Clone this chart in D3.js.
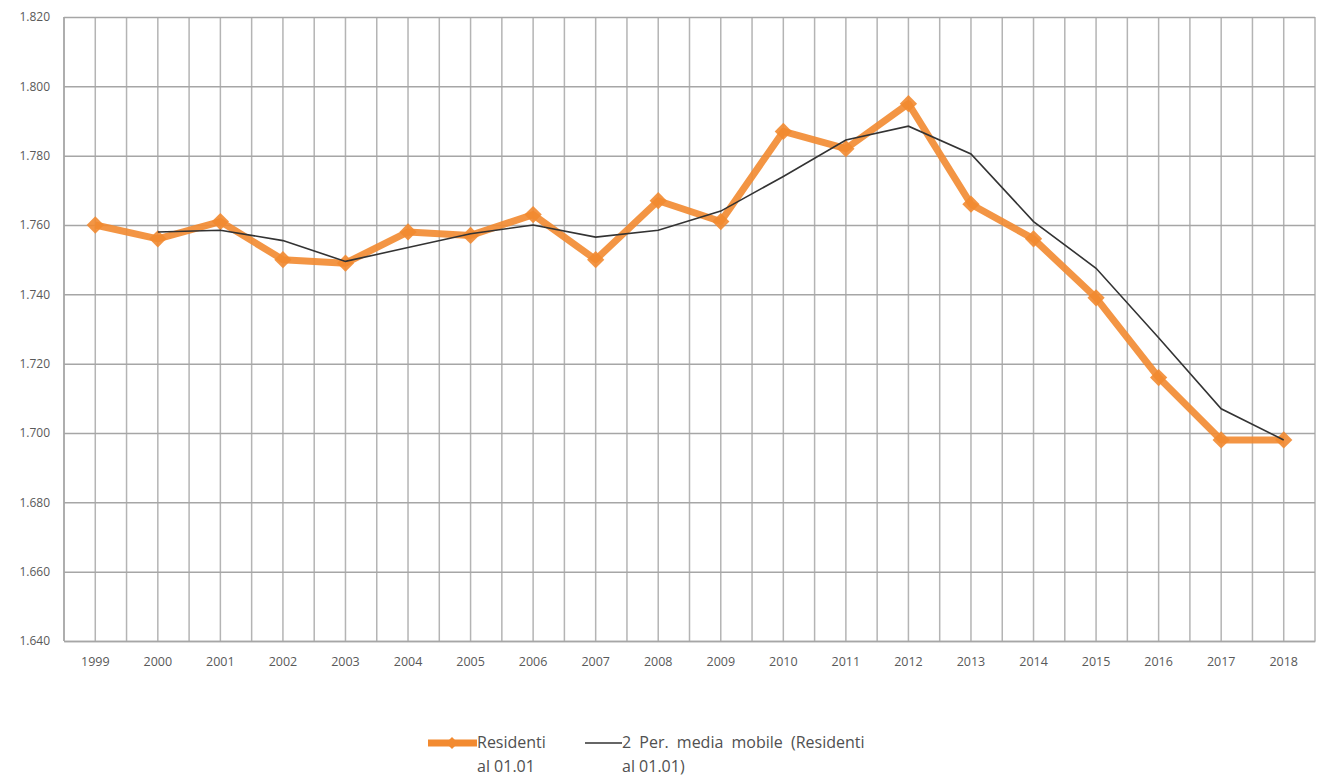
<!DOCTYPE html>
<html>
<head>
<meta charset="utf-8">
<script src="https://cdn.jsdelivr.net/npm/d3@7"></script>
<style>
  body { margin: 0; background: #fff; }
  text { font-family: "Open Sans", "Liberation Sans", sans-serif; }
</style>
</head>
<body>
<div class="line-chart"></div>
<script>
const years = ["1999","2000","2001","2002","2003","2004","2005","2006","2007","2008",
               "2009","2010","2011","2012","2013","2014","2015","2016","2017","2018"];
const residenti = [1760,1756,1761,1750,1749,1758,1757,1763,1750,1767,
                   1761,1787,1782,1795,1766,1756,1739,1716,1698,1698];
// 2 per. moving average (no value for 1999)
const mediaMobile = [null,1758,1758.5,1755.5,1749.5,1753.5,1757.5,1760,1756.5,1758.5,
                     1764,1774,1784.5,1788.5,1780.5,1761,1747.5,1727.5,1707,1698];
const yTicks = [1640,1660,1680,1700,1720,1740,1760,1780,1800,1820];

const margin = ({top: 17, right: 5, bottom: 140, left: 64});
const W = 1320, H = 781;
const width = 1315 - margin.left;
const height = 641 - margin.top;

const it = d3.formatLocale({decimal: ",", thousands: ".", grouping: [3], currency: ["€", ""]});
const fmt = it.format(",d");

const svg = d3.select(".line-chart")
    .append("svg")
    .attr("width", W)
    .attr("height", H)
    .append("g")
    .attr("transform", "translate(" + margin.left + "," + margin.top + ")");

const xScale = d3.scaleBand()
    .domain(years)
    .range([0, width]);

const xc = d => xScale(d) + xScale.bandwidth() / 2;

const yScale = d3.scaleLinear()
    .domain([1640, 1820])
    .range([height, 0]);

// vertical gridlines: category boundaries and centres
const vlines = [];
years.forEach(y => { vlines.push(xScale(y)); vlines.push(xc(y)); });
vlines.push(width);
svg.selectAll(".vgrid")
    .data(vlines)
    .enter()
    .append("line")
    .attr("x1", d => d).attr("x2", d => d)
    .attr("y1", 0).attr("y2", height)
    .attr("stroke", "#b4b4b4")
    .attr("stroke-width", 1.5);

// y axis with horizontal gridlines
const yAxis = d3.axisLeft(yScale)
    .tickValues(yTicks)
    .tickFormat(fmt)
    .tickSize(-width)
    .tickPadding(14);

svg.append("g")
    .attr("class", "axis y-axis")
    .call(yAxis)
    .call(g => g.select(".domain").remove())
    .call(g => g.selectAll(".tick line").attr("stroke", "#a6a6a6").attr("stroke-width", 1.5))
    .call(g => g.selectAll(".tick text").attr("fill", "#595959").attr("font-size", 12));

// left border
svg.append("line")
    .attr("x1", 0).attr("x2", 0).attr("y1", 0).attr("y2", height)
    .attr("stroke", "#a6a6a6").attr("stroke-width", 1.5);

// x axis labels
const xAxis = d3.axisBottom(xScale).tickSize(0).tickPadding(16);
svg.append("g")
    .attr("class", "axis x-axis")
    .attr("transform", `translate(0, ${height})`)
    .call(xAxis)
    .call(g => g.select(".domain").attr("stroke", "#a6a6a6").attr("stroke-width", 1.5))
    .call(g => g.selectAll(".tick text").attr("fill", "#595959").attr("font-size", 12.5));

const orange = "#f28a30";

// residenti line
const data = years.map((y, i) => ({year: y, v: residenti[i], m: mediaMobile[i]}));

const line = d3.line()
    .x(d => xc(d.year))
    .y(d => yScale(d.v));

svg.append("path")
    .datum(data)
    .attr("fill", "none")
    .attr("stroke", orange)
    .attr("stroke-width", 7)
    .attr("stroke-linejoin", "round")
    .attr("opacity", 0.9)
    .attr("d", line);

const diamond = d3.symbol().type(d3.symbolDiamond2).size(190);
svg.selectAll(".marker")
    .data(data)
    .enter()
    .append("path")
    .attr("class", "marker")
    .attr("transform", d => `translate(${xc(d.year)},${yScale(d.v)})`)
    .attr("d", diamond)
    .attr("fill", orange)
    .attr("opacity", 0.9);

// moving average line
const maLine = d3.line()
    .defined(d => d.m != null)
    .x(d => xc(d.year))
    .y(d => yScale(d.m));

svg.append("path")
    .datum(data)
    .attr("fill", "none")
    .attr("stroke", "#333333")
    .attr("stroke-width", 1.6)
    .attr("d", maLine);

// legend
const root = d3.select("svg");
const leg = root.append("g")
    .attr("font-size", 16)
    .attr("fill", "#505050");

leg.append("line")
    .attr("x1", 428).attr("x2", 477).attr("y1", 743).attr("y2", 743)
    .attr("stroke", orange).attr("stroke-width", 7);
leg.append("path")
    .attr("transform", "translate(452,743)")
    .attr("d", d3.symbol().type(d3.symbolDiamond2).size(90))
    .attr("fill", orange);
leg.append("text").attr("x", 477).attr("y", 748).text("Residenti");
leg.append("text").attr("x", 477).attr("y", 772).text("al 01.01");

leg.append("line")
    .attr("x1", 585).attr("x2", 622).attr("y1", 743).attr("y2", 743)
    .attr("stroke", "#333333").attr("stroke-width", 1.6);
leg.append("text").attr("x", 622).attr("y", 748).attr("word-spacing", 4).text("2 Per. media mobile (Residenti");
leg.append("text").attr("x", 622).attr("y", 772).text("al 01.01)");
</script>
</body>
</html>
